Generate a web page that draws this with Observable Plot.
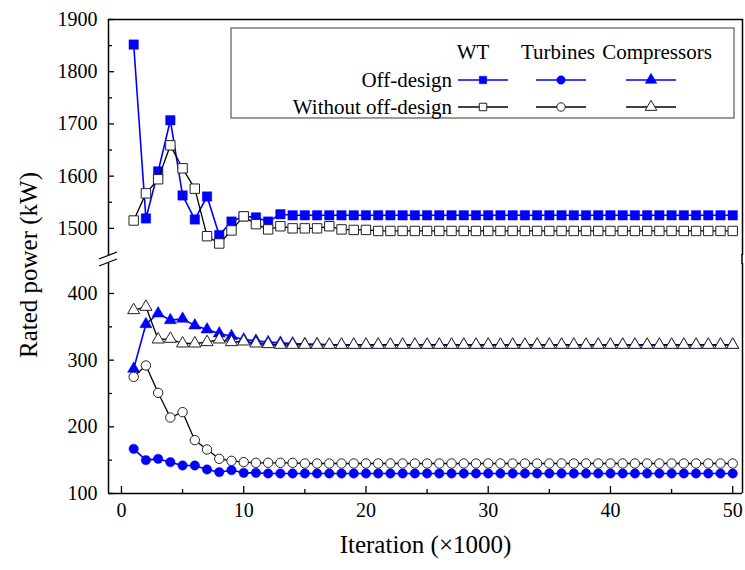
<!DOCTYPE html>
<html><head><meta charset="utf-8">
<script src="https://cdn.jsdelivr.net/npm/d3@7"></script>
<script src="https://cdn.jsdelivr.net/npm/@observablehq/plot@0.6"></script>
<style>
body{margin:0;background:#fff;}
#chart{position:relative;width:745px;height:570px;color:#000;}
#chart svg{position:absolute;left:0;}
</style></head><body><div id="chart"></div>
<script>
// ---- data ----
const iteration = [1,2,3,4,5,6,7,8,9,10,11,12,13,14,15,16,17,18,19,20,21,22,23,24,25,26,27,28,29,30,31,32,33,34,35,36,37,38,39,40,41,42,43,44,45,46,47,48,49,50];
const wtOff = [1852,1519,1609,1707,1563,1517,1561,1487,1513,1523,1521,1513,1527,1525,1525,1525,1525,1525,1525,1525,1525,1525,1525,1525,1525,1525,1525,1525,1525,1525,1525,1525,1525,1525,1525,1525,1525,1525,1525,1525,1525,1525,1525,1525,1525,1525,1525,1525,1525,1525];
const wtWithout = [1515,1567,1594,1659,1615,1576,1485,1471,1496,1523,1508,1498,1504,1500,1500,1500,1504,1498,1497,1497,1495,1495,1495,1495,1495,1495,1495,1495,1495,1495,1495,1495,1495,1495,1495,1495,1495,1495,1495,1495,1495,1495,1495,1495,1495,1495,1495,1495,1495,1495];
const turbOff = [167,150,152,147,142,142,136,132,135,131,131,130,130,130,130,130,130,130,130,130,130,130,130,130,130,130,130,130,130,130,130,130,130,130,130,130,130,130,130,130,130,130,130,130,130,130,130,130,130,130];
const turbWithout = [275,292,251,214,222,180,166,152,149,147,146,146,146,146,145,145,145,145,145,145,145,145,145,145,145,145,145,145,145,145,145,145,145,145,145,145,145,145,145,145,145,145,145,145,145,145,145,145,145,145];
const compOff = [287,354,370,360,362,352,346,340,336,331,329,327,326,325,324,324,323,323,323,323,323,323,323,323,323,323,323,323,323,323,323,323,323,323,323,323,323,323,323,323,323,323,323,323,323,323,323,323,323,323];
const compWithout = [375,380,331,332,325,325,327,331,327,328,325,324,323,323,323,323,323,323,323,323,323,323,323,323,323,323,323,323,323,323,323,323,323,323,323,323,323,323,323,323,323,323,323,323,323,323,323,323,323,323];

const xTicks = [0,10,20,30,40,50];
const xMinor = [5,15,25,35,45];
const yUpperTicks = [1500,1600,1700,1800,1900];
const yUpperMinor = [1550,1650,1750,1850];
const yLowerTicks = [100,200,300,400];
const yLowerMinor = [150,250,350];
const legendCols = ["WT","Turbines","Compressors"];
const legendRows = ["Off-design","Without off-design"];
const legendSymbols = ["square","circle","triangle"];

const BLUE = "#0000ff";
const FONT = "Liberation Serif";
const fmt = d => String(d);
const toRows = vals => vals.map((v,i) => ({x: iteration[i], y: v}));
const xDomain = [-1.06, 50.8];

function seriesMarks(vals, symbol, r, off) {
  const d = toRows(vals);
  return off
    ? [Plot.line(d, {x:"x", y:"y", stroke: BLUE, strokeWidth: 1.6}),
       Plot.dot(d, {x:"x", y:"y", symbol, r, fill: BLUE, stroke: BLUE, strokeWidth: 0.5})]
    : [Plot.line(d, {x:"x", y:"y", stroke: "#000", strokeWidth: 1.3}),
       Plot.dot(d, {x:"x", y:"y", symbol, r, fill: "#fff", stroke: "#222", strokeWidth: 1})];
}

const chart = document.getElementById("chart");

// ---- upper panel ----
const upper = Plot.plot({
  width: 745, height: 256, marginTop: 19, marginBottom: 1, marginLeft: 108, marginRight: 3,
  style: {fontFamily: FONT, background: "transparent", color: "#000", overflow: "visible"},
  x: {domain: xDomain, axis: null},
  y: {domain: [1448, 1900], axis: null},
  marks: [
    Plot.ruleY([1900], {stroke: "#000", strokeWidth: 1.5}),
    Plot.ruleX([xDomain[0]], {stroke: "#000", strokeWidth: 1.5}),
    Plot.ruleX([xDomain[1]], {stroke: "#000", strokeWidth: 1.5}),
    Plot.axisY({ticks: yUpperTicks, tickFormat: fmt, tickSize: -6, tickPadding: 17, label: null, fontSize: 20, strokeWidth: 1.3}),
    Plot.axisY({ticks: yUpperMinor, tickSize: -4, tickFormat: () => "", label: null, strokeWidth: 1.3}),
    ...seriesMarks(wtOff, "square", 5.3, true),
    ...seriesMarks(wtWithout, "square", 5.3, false)
  ]
});
upper.style.top = "0px";
chart.appendChild(upper);

// legend (inside upper panel)
{
  const svg = d3.select(upper);
  const g = svg.append("g").attr("font-size", 21).attr("fill", "#000");
  g.append("rect").attr("x", 231).attr("y", 28).attr("width", 503).attr("height", 90)
    .attr("fill", "#fff").attr("stroke", "#666").attr("stroke-width", 1.3);
  const colX = [483, 561, 651];
  const colTextX = [473, 558, 657];
  legendCols.forEach((c, i) => g.append("text").attr("x", colTextX[i]).attr("y", 59)
    .attr("text-anchor", "middle").text(c));
  const rowY = [80, 107];
  legendRows.forEach((r, j) => {
    g.append("text").attr("x", 452).attr("y", rowY[j] + 7).attr("text-anchor", "end").text(r);
    legendSymbols.forEach((s, i) => {
      const off = j === 0;
      g.append("line").attr("x1", colX[i] - 25).attr("x2", colX[i] + 25)
        .attr("y1", rowY[j]).attr("y2", rowY[j])
        .attr("stroke", off ? BLUE : "#000").attr("stroke-width", off ? 1.6 : 1.3);
      const type = s === "square" ? d3.symbolSquare : s === "circle" ? d3.symbolCircle : d3.symbolTriangle;
      const rr = s === "triangle" ? 4.3 : 4.2;
      g.append("path").attr("transform", `translate(${colX[i]},${rowY[j]})`)
        .attr("d", d3.symbol(type, Math.PI * rr * rr)())
        .attr("fill", off ? BLUE : "#fff").attr("stroke", off ? BLUE : "#222").attr("stroke-width", off ? 0.5 : 1);
    });
  });
}

// ---- lower panel ----
const lower = Plot.plot({
  width: 745, height: 314, marginTop: 7, marginBottom: 77, marginLeft: 108, marginRight: 3,
  style: {fontFamily: FONT, background: "transparent", color: "#000", overflow: "visible"},
  x: {domain: xDomain, axis: null},
  y: {domain: [100, 445], axis: null},
  marks: [
    Plot.ruleY([100], {stroke: "#000", strokeWidth: 1.5}),
    Plot.ruleX([xDomain[0]], {stroke: "#000", strokeWidth: 1.5}),
    Plot.ruleX([xDomain[1]], {stroke: "#000", strokeWidth: 1.5}),
    Plot.axisY({ticks: yLowerTicks, tickFormat: fmt, tickSize: -6, tickPadding: 17, label: null, fontSize: 20, strokeWidth: 1.3}),
    Plot.axisY({ticks: yLowerMinor, tickSize: -4, tickFormat: () => "", label: null, strokeWidth: 1.3}),
    Plot.axisX({ticks: xTicks, tickFormat: fmt, tickSize: -7, tickPadding: 16, label: null, fontSize: 20, strokeWidth: 1.3}),
    Plot.axisX({ticks: xMinor, tickSize: -4, tickFormat: () => "", label: null, strokeWidth: 1.3}),
    Plot.text(["Iteration (×1000)"], {frameAnchor: "bottom", dy: 59, fontSize: 25, fill: "#000"}),
    ...seriesMarks(compOff, "triangle", 4.5, true),
    ...seriesMarks(turbOff, "circle", 4.7, true),
    ...seriesMarks(compWithout, "triangle", 4.5, false),
    ...seriesMarks(turbWithout, "circle", 4.7, false)
  ]
});
lower.style.top = "256px";
chart.appendChild(lower);

// ---- overlay: y title, axis break marks ----
{
  const svg = d3.select(chart).append("svg").attr("width", 745).attr("height", 570)
    .style("top", "0px").style("pointer-events", "none");
  svg.append("text").attr("transform", "translate(37,265) rotate(-90)")
    .attr("text-anchor", "middle").attr("font-size", 25)
    .attr("fill", "#000").text("Rated power (kW)");
  const brk = svg.append("g").attr("stroke", "#000").attr("stroke-width", 1.3);
  brk.append("line").attr("x1", 99).attr("y1", 259).attr("x2", 117).attr("y2", 252);
  brk.append("line").attr("x1", 99).attr("y1", 266).attr("x2", 117).attr("y2", 259);
  svg.append("line").attr("x1", 742).attr("x2", 742).attr("y1", 254).attr("y2", 264)
    .attr("stroke", "#000").attr("stroke-width", 1.5);
}

// serif face on every text element
d3.select(chart).selectAll("svg").attr("font-family", FONT).style("font-family", FONT);
d3.select(chart).selectAll("text").attr("font-family", FONT).style("font-family", FONT);
</script></body></html>
